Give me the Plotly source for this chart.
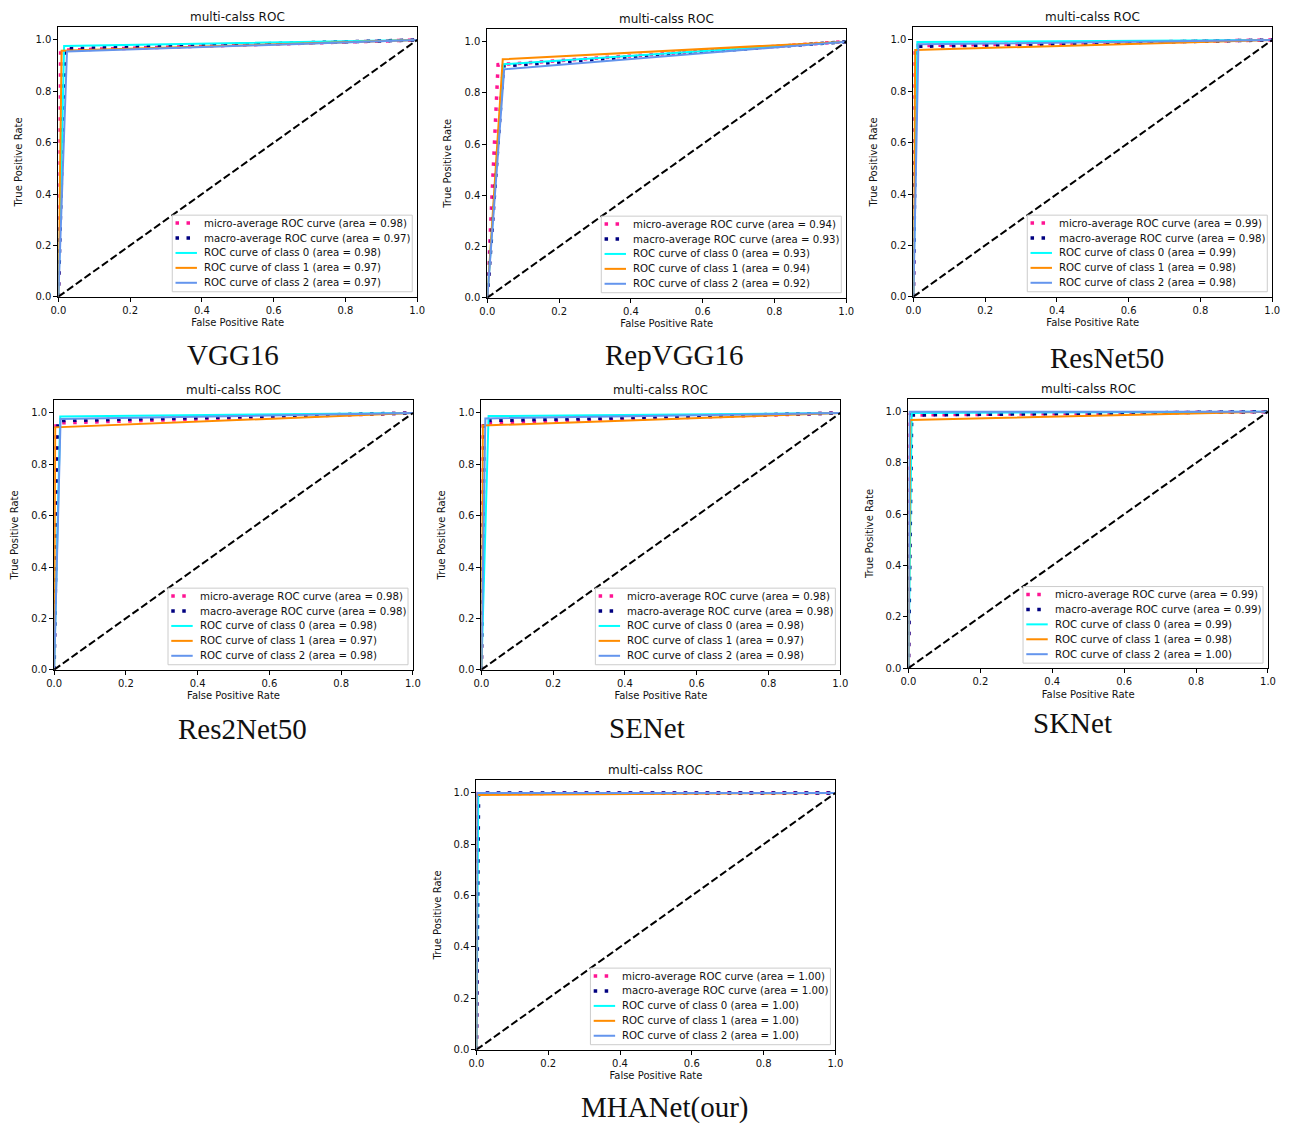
import plotly.graph_objects as go

W, H = 1298, 1127

models = ["VGG16", "RepVGG16", "ResNet50", "Res2Net50", "SENet", "SKNet", "MHANet(our)"]

# ROC points (fpr, tpr) of every curve, one row per model
micro_fpr = [[0, 0.006, 1], [0, 0.030, 1], [0, 0.003, 1], [0, 0.005, 1], [0, 0.002, 1], [0, 0.003, 1], [0, 0.002, 1]]
micro_tpr = [[0, 0.960, 1], [0, 0.910, 1], [0, 0.978, 1], [0, 0.961, 1], [0, 0.960, 1], [0, 0.987, 1], [0, 0.998, 1]]
macro_fpr = [[0, 0.018, 1], [0, 0.045, 1], [0, 0.008, 1], [0, 0.011, 1], [0, 0.008, 1], [0, 0.009, 1], [0, 0.006, 1]]
macro_tpr = [[0, 0.966, 1], [0, 0.905, 1], [0, 0.975, 1], [0, 0.970, 1], [0, 0.970, 1], [0, 0.987, 1], [0, 1.000, 1]]
class0_fpr = [[0, 0.016, 1], [0, 0.045, 1], [0, 0.011, 1], [0, 0.017, 1], [0, 0.020, 1], [0, 0.009, 1], [0, 0.005, 1]]
class0_tpr = [[0, 0.977, 1], [0, 0.912, 1], [0, 0.992, 1], [0, 0.986, 1], [0, 0.988, 1], [0, 0.995, 1], [0, 1.000, 1]]
class1_fpr = [[0, 0.009, 1], [0, 0.043, 1], [0, 0.005, 1], [0, 0.003, 1], [0, 0.004, 1], [0, 0.005, 1], [0, 0.000, 1]]
class1_tpr = [[0, 0.958, 1], [0, 0.931, 1], [0, 0.961, 1], [0, 0.944, 1], [0, 0.951, 1], [0, 0.968, 1], [0, 0.992, 1]]
class2_fpr = [[0, 0.024, 1], [0, 0.047, 1], [0, 0.014, 1], [0, 0.018, 1], [0, 0.011, 1], [0, 0.003, 1], [0, 0.002, 1]]
class2_tpr = [[0, 0.955, 1], [0, 0.892, 1], [0, 0.983, 1], [0, 0.977, 1], [0, 0.979, 1], [0, 1.000, 1], [0, 1.000, 1]]

# areas under each curve, as printed in the legends
auc_micro = [0.98, 0.94, 0.99, 0.98, 0.98, 0.99, 1.00]
auc_macro = [0.97, 0.93, 0.98, 0.98, 0.98, 0.99, 1.00]
auc_class0 = [0.98, 0.93, 0.99, 0.98, 0.98, 0.99, 1.00]
auc_class1 = [0.97, 0.94, 0.98, 0.97, 0.97, 0.98, 1.00]
auc_class2 = [0.97, 0.92, 0.98, 0.98, 0.98, 1.00, 1.00]

tick_vals = [0.0, 0.2, 0.4, 0.6, 0.8, 1.0]

# axes boxes in pixels: left, right, top, bottom
boxes = [
    (51.0, 414.3, 27.3, 298.3),
    (485.3, 848.7, 29.0, 299.3),
    (916.7, 1280.0, 27.3, 298.3),
    (46.7, 410.0, 402.3, 673.3),
    (479.3, 842.7, 402.3, 673.3),
    (911.7, 1275.7, 401.0, 671.7),
    (474.3, 837.7, 784.3, 1055.3),
]
# caption centres in pixels
captions = [(228, 357), (675, 357), (1113, 360), (237, 733), (647, 732), (1078, 727), (665, 1113)]

SANS = "DejaVu Sans"
SERIF = "Liberation Serif"
DOT = "3.5px,7.5px"
DIAG = "7.5px,3.2px"

styles = [
    ("micro-average ROC curve", "deeppink", 3.5, DOT),
    ("macro-average ROC curve", "navy", 3.5, DOT),
    ("ROC curve of class 0", "aqua", 2, "solid"),
    ("ROC curve of class 1", "darkorange", 2, "solid"),
    ("ROC curve of class 2", "cornflowerblue", 2, "solid"),
]

fig = go.Figure()
shapes = []
annotations = []


def px(x):
    return x / W


def py(y):
    return 1 - y / H


for i, name in enumerate(models):
    k = "" if i == 0 else str(i + 1)
    l, r, t, b = boxes[i]
    curves = [
        (micro_fpr[i], micro_tpr[i], auc_micro[i]),
        (macro_fpr[i], macro_tpr[i], auc_macro[i]),
        (class0_fpr[i], class0_tpr[i], auc_class0[i]),
        (class1_fpr[i], class1_tpr[i], auc_class1[i]),
        (class2_fpr[i], class2_tpr[i], auc_class2[i]),
    ]
    labels = []
    for (fx, ty, area), (lab, color, width, dash) in zip(curves, styles):
        text = f"{lab} (area = {area:.2f})"
        labels.append(text)
        fig.add_trace(go.Scatter(
            x=fx, y=ty, mode="lines", name=text, showlegend=False,
            line=dict(color=color, width=width, dash=dash),
            xaxis="x" + k, yaxis="y" + k, hoverinfo="skip"))
    # chance line
    fig.add_trace(go.Scatter(
        x=[0, 1], y=[0, 1], mode="lines", showlegend=False,
        line=dict(color="black", width=2, dash=DIAG),
        xaxis="x" + k, yaxis="y" + k, hoverinfo="skip"))

    axis_common = dict(
        showline=True, linecolor="#000", linewidth=1, mirror=True,
        ticks="outside", ticklen=4, tickwidth=1, tickcolor="#000",
        tickvals=tick_vals, tickformat=".1f", showgrid=False, zeroline=False,
        tickfont=dict(family=SANS, size=10, color="#111"),
    )
    fig.layout["xaxis" + k] = dict(
        axis_common, domain=[px(l), px(r)], anchor="y" + k, range=[0, 1],
        title=dict(text="False Positive Rate", font=dict(family=SANS, size=10, color="#111"), standoff=4))
    fig.layout["yaxis" + k] = dict(
        axis_common, domain=[py(b), py(t)], anchor="x" + k, range=[0, 1.05],
        title=dict(text="True Positive Rate", font=dict(family=SANS, size=10, color="#111"), standoff=10))

    # subplot title
    annotations.append(dict(
        text="multi-calss ROC", x=px((l + r) / 2), y=py(t - 10), xref="paper", yref="paper",
        xanchor="center", yanchor="middle", showarrow=False,
        font=dict(family=SANS, size=12, color="#111")))

    # legend, lower right
    lw_box, lh_box = 243, 77
    L, R = r - 5 - lw_box, r - 5
    B, T = b - 5, b - 5 - lh_box
    shapes.append(dict(type="rect", xref="paper", yref="paper", x0=px(L), x1=px(R), y0=py(B), y1=py(T),
                       line=dict(color="#cccccc", width=1), fillcolor="rgba(255,255,255,0.85)", layer="above"))
    for j, ((lab, color, width, dash), text) in enumerate(zip(styles, labels)):
        ry = T + 8 + 15 * j
        shapes.append(dict(type="line", xref="paper", yref="paper", x0=px(L + 3.3), x1=px(L + 25),
                           y0=py(ry), y1=py(ry), line=dict(color=color, width=width, dash=dash), layer="above"))
        annotations.append(dict(
            text=text, x=px(L + 30), y=py(ry), xref="paper", yref="paper",
            xanchor="left", yanchor="middle", showarrow=False,
            font=dict(family=SANS, size=10.2, color="#111")))

    cx, cy = captions[i]
    annotations.append(dict(
        text=name, x=px(cx), y=py(cy), xref="paper", yref="paper",
        xanchor="center", yanchor="middle", showarrow=False,
        font=dict(family=SERIF, size=29, color="#111")))

fig.update_layout(
    width=W, height=H, margin=dict(l=0, r=0, t=0, b=0),
    paper_bgcolor="white", plot_bgcolor="white",
    shapes=shapes, annotations=annotations, showlegend=False,
)

fig.write_html("out.html")
